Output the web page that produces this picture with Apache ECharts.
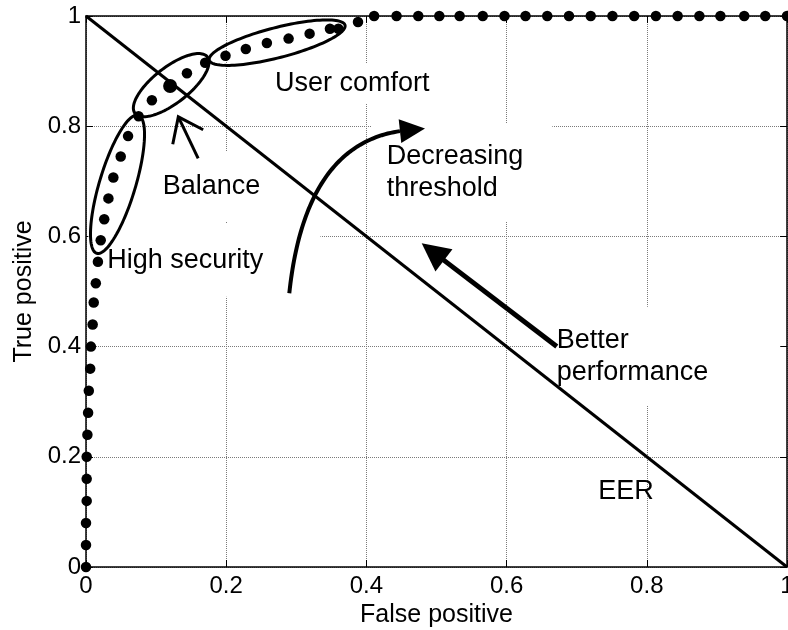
<!DOCTYPE html>
<html>
<head>
<meta charset="utf-8">
<script src="https://cdn.jsdelivr.net/npm/echarts@6/dist/echarts.min.js"></script>
<style>
html,body{margin:0;padding:0;background:#fff;}
#chart{width:788px;height:630px;}
</style>
</head>
<body>
<div id="chart"></div>
<script>
// ---- data ----
const rocFP = [0, 0, 0, 0.001, 0.001, 0.001, 0.002, 0.003, 0.004, 0.006, 0.007, 0.0095, 0.011,
  0.014, 0.017, 0.021, 0.026, 0.032, 0.039, 0.0495, 0.060, 0.075, 0.094,
  0.144, 0.170, 0.199, 0.228, 0.258, 0.289, 0.319, 0.348, 0.360, 0.388, 0.411,
  0.443, 0.474, 0.504, 0.533, 0.566, 0.597, 0.627, 0.658, 0.689, 0.720, 0.751,
  0.782, 0.813, 0.844, 0.875, 0.905, 0.939, 0.969, 1.0];
const rocTP = [0, 0.04, 0.08, 0.12, 0.16, 0.20, 0.24, 0.28, 0.32, 0.36, 0.40, 0.44, 0.48,
  0.515, 0.554, 0.593, 0.631, 0.669, 0.707, 0.745, 0.782, 0.818, 0.847,
  0.896, 0.915, 0.928, 0.940, 0.951, 0.959, 0.968, 0.977, 0.977, 0.989, 1.0,
  1, 1, 1, 1, 1, 1, 1, 1, 1, 1, 1,
  1, 1, 1, 1, 1, 1, 1, 1];
const balanceFP = [0.120];
const balanceTP = [0.873];
const eerFP = [0, 1];
const eerTP = [1, 0];
const axisMin = 0, axisMax = 1, axisStep = 0.2;

// ellipse major-axis end points (data coords) and minor/major ratio
const ellipseStart = [[0.0153, 0.5693], [0.0699, 0.8232], [0.1759, 0.9199]];
const ellipseEnd   = [[0.0746, 0.8200], [0.1731, 0.9258], [0.3695, 0.9833]];
const ellipseRatio = [0.25, 0.39, 0.215];

// arrows (data coords)
const betterFrom = [0.6716, 0.400];
const betterTo   = [0.4789, 0.5875];
const curveStart = [0.290, 0.4968];
const curveCtrl  = [0.3124, 0.7659];
const curveEnd   = [0.4479, 0.7911];
const curveTip   = [0.4836, 0.7960];
const balanceFrom = [0.160, 0.7416];
const balanceTo   = [0.1317, 0.8170];

// annotation texts and anchor (left edge, cap middle) in data coords
const labelTexts = ['User comfort', 'Balance', 'High security', 'Decreasing\nthreshold', 'Better\nperformance', 'EER'];
const labelAnchors = [[0.2696, 0.877], [0.1094, 0.6931], [0.0304, 0.5648], [0.4290, 0.7222], [0.6714, 0.3850], [0.7308, 0.1365]];
// ---- styling ----
const labelPads = [[4,4,4,4], [18,10,21,10], [16,57,25,19], [14,29,20,15], [16,72,19,14], [0,0,0,0]];
const labelBg = [true, true, true, true, true, false];
const FONT = '"Liberation Sans", Arial, Helvetica, sans-serif';

const chart = echarts.init(document.getElementById('chart'), null, {renderer: 'canvas'});

function renderLabel(params, api) {
  const i = params.dataIndex;
  const p = api.coord(labelAnchors[i]);
  const pad = labelPads[i];
  return {
    type: 'text',
    x: p[0] - pad[3],
    y: p[1] - (pad[0] - pad[2]) / 2,
    style: {
      text: labelTexts[i],
      fill: '#000',
      font: '27px ' + FONT,
      align: 'left',
      verticalAlign: 'middle',
      lineHeight: 32,
      backgroundColor: labelBg[i] ? '#fff' : null,
      padding: pad
    }
  };
}

function renderEllipse(params, api) {
  const i = params.dataIndex;
  const p1 = api.coord(ellipseStart[i]);
  const p2 = api.coord(ellipseEnd[i]);
  const cx = (p1[0] + p2[0]) / 2, cy = (p1[1] + p2[1]) / 2;
  const dx = (p2[0] - p1[0]) / 2, dy = (p2[1] - p1[1]) / 2;
  const a = Math.hypot(dx, dy), b = a * ellipseRatio[i];
  const ux = dx / a, uy = dy / a;
  const pts = [];
  for (let k = 0; k < 120; k++) {
    const t = k / 120 * 2 * Math.PI;
    const c = Math.cos(t) * a, s = Math.sin(t) * b;
    pts.push([cx + c * ux - s * uy, cy + c * uy + s * ux]);
  }
  return {type: 'polygon', shape: {points: pts}, style: {fill: 'none', stroke: '#000', lineWidth: 3}};
}

function headPolygon(base, tip, halfW) {
  const dx = tip[0] - base[0], dy = tip[1] - base[1];
  const L = Math.hypot(dx, dy);
  const nx = -dy / L, ny = dx / L;
  return [tip, [base[0] + nx * halfW, base[1] + ny * halfW], [base[0] - nx * halfW, base[1] - ny * halfW]];
}

function renderArrows(params, api) {
  const i = params.dataIndex;
  if (i === 0) {
    const f = api.coord(betterFrom), t = api.coord(betterTo);
    const dx = t[0] - f[0], dy = t[1] - f[1], L = Math.hypot(dx, dy);
    const headLen = 28;
    const base = [t[0] - dx / L * headLen, t[1] - dy / L * headLen];
    return {type: 'group', children: [
      {type: 'polyline', shape: {points: [f, [base[0] + dx / L * 4, base[1] + dy / L * 4]]}, style: {stroke: '#000', lineWidth: 5, fill: null}},
      {type: 'polygon', shape: {points: headPolygon(base, t, 14)}, style: {fill: '#000', stroke: null}}
    ]};
  } else if (i === 1) {
    const p0 = api.coord(curveStart), c = api.coord(curveCtrl), p2 = api.coord(curveEnd), tip = api.coord(curveTip);
    const pts = [];
    for (let k = 0; k <= 60; k++) {
      const t = k / 60, u = 1 - t;
      pts.push([u * u * p0[0] + 2 * u * t * c[0] + t * t * p2[0], u * u * p0[1] + 2 * u * t * c[1] + t * t * p2[1]]);
    }
    return {type: 'group', children: [
      {type: 'polyline', shape: {points: pts}, style: {stroke: '#000', lineWidth: 4, fill: null}},
      {type: 'polygon', shape: {points: headPolygon(p2, tip, 12)}, style: {fill: '#000', stroke: null}}
    ]};
  } else {
    const f = api.coord(balanceFrom), t = api.coord(balanceTo);
    const dx = f[0] - t[0], dy = f[1] - t[1], L = Math.hypot(dx, dy);
    const ux = dx / L, uy = dy / L;
    const ang = 37 * Math.PI / 180, arm = 28;
    const r1 = [t[0] + arm * (ux * Math.cos(ang) - uy * Math.sin(ang)), t[1] + arm * (ux * Math.sin(ang) + uy * Math.cos(ang))];
    const r2 = [t[0] + arm * (ux * Math.cos(-ang) - uy * Math.sin(-ang)), t[1] + arm * (ux * Math.sin(-ang) + uy * Math.cos(-ang))];
    return {type: 'group', children: [
      {type: 'polyline', shape: {points: [f, t]}, style: {stroke: '#000', lineWidth: 3, fill: null}},
      {type: 'polyline', shape: {points: [r1, t, r2]}, style: {stroke: '#000', lineWidth: 3, fill: null, lineJoin: 'miter'}}
    ]};
  }
}

const axisLineStyle = {color: '#000', width: 1.5};
const gridLineStyle = {color: '#7a7a7a', type: 'dotted', width: 1};

function mainAxis(extra) {
  return Object.assign({
    type: 'value', min: axisMin, max: axisMax, interval: axisStep,
    axisLine: {show: true, onZero: false, lineStyle: axisLineStyle},
    axisTick: {show: true, inside: true, length: 7, lineStyle: {color: '#000', width: 1}},
    splitLine: {show: true, lineStyle: gridLineStyle},
    nameLocation: 'middle',
    nameTextStyle: {color: '#000', fontSize: 25, fontFamily: FONT}
  }, extra);
}
function boxAxis(extra) {
  return Object.assign({
    type: 'value', min: axisMin, max: axisMax, interval: axisStep,
    axisLine: {show: true, onZero: false, lineStyle: axisLineStyle},
    axisTick: {show: true, inside: true, length: 7, lineStyle: {color: '#000', width: 1}},
    axisLabel: {show: false},
    splitLine: {show: false}
  }, extra);
}

const option = {
  backgroundColor: '#fff',
  animation: false,
  grid: {left: 86, right: 1, top: 16, bottom: 63, containLabel: false, outerBoundsMode: 'none'},
  xAxis: [
    mainAxis({position: 'bottom', name: 'False positive', nameGap: 30,
      axisLabel: {show: true, color: '#000', fontSize: 24, fontFamily: FONT, margin: 7, showMinLabel: true, showMaxLabel: true, hideOverlap: false}}),
    boxAxis({position: 'top'})
  ],
  yAxis: [
    mainAxis({position: 'left', name: 'True positive', nameGap: 48,
      axisLabel: {show: true, color: '#000', fontSize: 24, fontFamily: FONT, margin: 5, showMinLabel: true, showMaxLabel: true, hideOverlap: false}}),
    boxAxis({position: 'right'})
  ],
  series: [
    {
      type: 'custom', name: 'labels', coordinateSystem: 'cartesian2d', z: 2, clip: false,
      renderItem: renderLabel, data: labelTexts.map((t, i) => [labelAnchors[i][0], labelAnchors[i][1]])
    },
    {
      type: 'line', name: 'EER', data: eerFP.map((x, i) => [x, eerTP[i]]),
      symbol: 'none', lineStyle: {color: '#000', width: 3, opacity: 1}, z: 3, silent: true
    },
    {
      type: 'custom', name: 'ellipses', coordinateSystem: 'cartesian2d', z: 4, clip: false,
      renderItem: renderEllipse, data: ellipseStart.map(p => [p[0], p[1]])
    },
    {
      type: 'custom', name: 'arrows', coordinateSystem: 'cartesian2d', z: 4, clip: false,
      renderItem: renderArrows, data: [betterTo, curveTip, balanceTo].map(p => [p[0], p[1]])
    },
    {
      type: 'scatter', name: 'ROC', data: rocFP.map((x, i) => [x, rocTP[i]]),
      symbol: 'circle', symbolSize: 10.5, itemStyle: {color: '#000', opacity: 1}, z: 5, clip: false
    },
    {
      type: 'scatter', name: 'Balance point', data: balanceFP.map((x, i) => [x, balanceTP[i]]),
      symbol: 'circle', symbolSize: 14, itemStyle: {color: '#000', opacity: 1}, z: 5, clip: false
    }
  ]
};
chart.setOption(option);
</script>
</body>
</html>
